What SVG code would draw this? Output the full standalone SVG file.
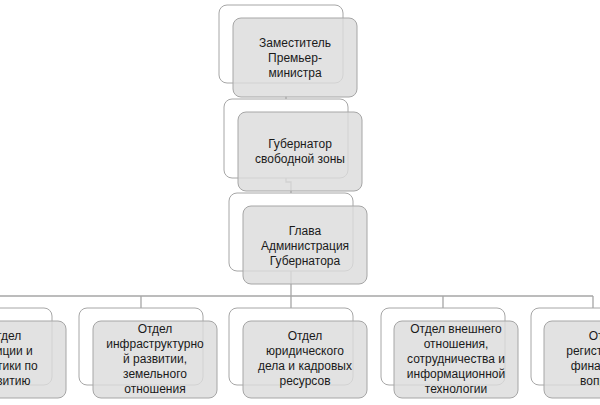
<svg xmlns="http://www.w3.org/2000/svg" width="600" height="405" viewBox="0 0 600 405">
<style>
.back{fill:#ffffff;stroke:#a6a6a6;stroke-width:1}
.front{fill:#dcdcdc;fill-opacity:0.82;stroke:#a6a6a6;stroke-width:1}
.conn{fill:none;stroke:#a6a6a6;stroke-width:1.3}
text{font-family:"Liberation Sans",Arial,sans-serif;font-size:12px;fill:#1a1a1a;text-anchor:middle}
</style>
<rect width="600" height="405" fill="#ffffff"/>
<g id="connectors">
<path class="conn" d="M286,96 V99"/>
<path class="conn" d="M286,170 V182 H291 V193"/>
<path class="conn" d="M291,271 V296"/>
<path class="conn" d="M-10,296 H593"/>
<path class="conn" d="M-10,296 V308 M141,296 V308 M291,296 V308 M443,296 V308 M593,296 V308"/>
</g>
<g id="node-deputy">
<rect class="back" x="219" y="5" width="124" height="78" rx="8"/>
<rect class="front" x="233" y="18" width="124" height="79" rx="8"/>
<text x="295" y="47">Заместитель</text>
<text x="295" y="62">Премьер-</text>
<text x="295" y="77">министра</text>
</g>
<g id="node-governor">
<rect class="back" x="224" y="99" width="124" height="79" rx="8"/>
<rect class="front" x="238" y="112" width="124" height="79" rx="8"/>
<text x="300" y="148">Губернатор</text>
<text x="300" y="163">свободной зоны</text>
</g>
<g id="node-head">
<rect class="back" x="229" y="193" width="124" height="78" rx="8"/>
<rect class="front" x="243" y="206" width="124" height="78" rx="8"/>
<text x="305" y="235">Глава</text>
<text x="305" y="250">Администрация</text>
<text x="305" y="265">Губернатора</text>
</g>
<g id="node-justice">
<rect class="back" x="-72" y="308" width="124" height="77" rx="8"/>
<rect class="front" x="-58" y="321" width="124" height="77" rx="8"/>
<text x="4" y="340">Отдел</text>
<text x="4" y="355">юстиции и</text>
<text x="4" y="370">политики по</text>
<text x="4" y="385">развитию</text>
</g>
<g id="node-infra">
<rect class="back" x="79" y="308" width="124" height="77" rx="8"/>
<rect class="front" x="93" y="321" width="124" height="77" rx="8"/>
<text x="155" y="333">Отдел</text>
<text x="155" y="348">инфраструктурно</text>
<text x="155" y="363">й развитии,</text>
<text x="155" y="378">земельного</text>
<text x="155" y="393">отношения</text>
</g>
<g id="node-legal">
<rect class="back" x="229" y="308" width="124" height="77" rx="8"/>
<rect class="front" x="243" y="321" width="124" height="77" rx="8"/>
<text x="305" y="340">Отдел</text>
<text x="305" y="355">юридического</text>
<text x="305" y="370">дела и кадровых</text>
<text x="305" y="385">ресурсов</text>
</g>
<g id="node-foreign">
<rect class="back" x="381" y="308" width="124" height="77" rx="8"/>
<rect class="front" x="394" y="321" width="124" height="77" rx="8"/>
<text x="456" y="333">Отдел внешнего</text>
<text x="456" y="348">отношения,</text>
<text x="456" y="363">сотрудничества и</text>
<text x="456" y="378">информационной</text>
<text x="456" y="393">технологии</text>
</g>
<g id="node-registration">
<rect class="back" x="531" y="308" width="124" height="77" rx="8"/>
<rect class="front" x="544" y="321" width="124" height="77" rx="8"/>
<text x="606" y="340">Отдел</text>
<text x="606" y="355">регистрации и</text>
<text x="606" y="370">финансовых</text>
<text x="606" y="385">вопросов</text>
</g>
</svg>
